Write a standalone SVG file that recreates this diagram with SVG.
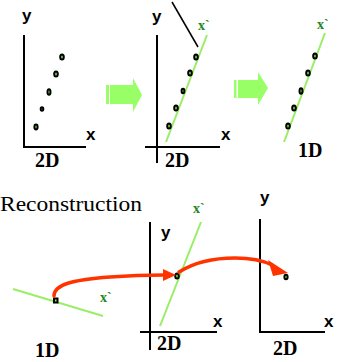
<svg xmlns="http://www.w3.org/2000/svg" width="339" height="362" viewBox="0 0 339 362">
<style>
.ax{stroke:#000;stroke-width:2;fill:none}
.gl{stroke:#99ee66;stroke-width:2;fill:none}
.bl{stroke:#000;stroke-width:1.5;fill:none}
.dot{fill:#88ee55;stroke:#000;stroke-width:2}
.lab{font-family:"Liberation Sans",Arial,sans-serif;font-weight:bold;font-size:17px;fill:#000}
.dim{font-family:"Liberation Serif","Times New Roman",serif;font-weight:bold;font-size:20px;fill:#000}
.xp{font-family:"Liberation Serif","Times New Roman",serif;font-weight:bold;font-size:14px;fill:#228822}
.title{font-family:"Liberation Serif","Times New Roman",serif;font-size:21px;fill:#000}
.arr{fill:#99ff66}
.red{stroke:#ff3300;fill:none;stroke-width:3.5;stroke-linecap:round}
.redh{fill:#ff3300}
</style>
<g id="panel-2d-data">
<path class="ax" d="M24,35 V147 H86"/>
<text class="lab" x="22" y="21">y</text>
<text class="lab" x="86" y="140">x</text>
<text class="dim" x="35" y="167">2D</text>
<ellipse class="dot" cx="62" cy="57" rx="1.8" ry="2.6"/>
<ellipse class="dot" cx="56" cy="74" rx="1.8" ry="2.6"/>
<ellipse class="dot" cx="49" cy="92" rx="1.5" ry="2.8"/>
<ellipse class="dot" cx="42" cy="109" rx="1.3" ry="1.8"/>
<ellipse class="dot" cx="36" cy="127" rx="1.6" ry="2.4"/>
</g>
<g id="arrow-1">
<rect class="arr" x="106" y="85" width="3" height="19"/>
<path class="arr" d="M110,85 H133 V78 L142,95 L133,112 V104 H110 Z"/>
</g>
<g id="panel-2d-fit">
<path class="ax" d="M157,35 V163 M145,147 H220"/>
<line class="gl" x1="166" y1="142" x2="207" y2="35"/>
<line class="bl" x1="172" y1="2" x2="198" y2="47"/>
<text class="lab" x="152" y="22">y</text>
<text class="lab" x="221" y="140">x</text>
<text class="xp" x="198" y="30">x`</text>
<text class="dim" x="165" y="167">2D</text>
<ellipse class="dot" cx="196" cy="57" rx="1.8" ry="2.6"/>
<ellipse class="dot" cx="190" cy="73" rx="1.8" ry="2.6"/>
<ellipse class="dot" cx="183" cy="91" rx="1.4" ry="2.2"/>
<ellipse class="dot" cx="176" cy="108" rx="1.8" ry="2.6"/>
<ellipse class="dot" cx="169" cy="126" rx="1.8" ry="2.6"/>
</g>
<g id="arrow-2">
<rect class="arr" x="234" y="80" width="2.5" height="18"/>
<path class="arr" d="M238,80 H258 V72 L268,88 L258,105 V98 H238 Z"/>
</g>
<g id="panel-1d">
<line class="gl" x1="284" y1="142" x2="325" y2="33"/>
<text class="xp" x="317" y="29">x`</text>
<text class="dim" x="298" y="157">1D</text>
<ellipse class="dot" cx="315" cy="56" rx="1.8" ry="2.6"/>
<ellipse class="dot" cx="308" cy="73" rx="1.8" ry="2.6"/>
<ellipse class="dot" cx="301" cy="91" rx="1.5" ry="2.8"/>
<ellipse class="dot" cx="294" cy="108" rx="1.8" ry="2.6"/>
<ellipse class="dot" cx="288" cy="126" rx="1.8" ry="2.6"/>
</g>
<text class="title" x="0" y="211" textLength="142" lengthAdjust="spacingAndGlyphs">Reconstruction</text>
<g id="recon-1d">
<line class="gl" x1="13" y1="289" x2="103" y2="316"/>
<text class="xp" x="100" y="302">x`</text>
<text class="dim" x="35" y="357">1D</text>
<rect x="54" y="298.5" width="3.5" height="4" fill="#88ee55" stroke="#000" stroke-width="2"/>
</g>
<g id="recon-2d-line">
<path class="ax" d="M150,222 V350 M140,332 H217"/>
<line class="gl" x1="160" y1="326" x2="201" y2="222"/>
<text class="xp" x="193" y="213">x`</text>
<text class="lab" x="161" y="238">y</text>
<text class="lab" x="213" y="327">x</text>
<text class="dim" x="157" y="350">2D</text>
<ellipse class="dot" cx="177" cy="276" rx="1.8" ry="2.6"/>
</g>
<g id="recon-2d-point">
<path class="ax" d="M260,219 V332 H325"/>
<text class="lab" x="260" y="203">y</text>
<text class="lab" x="324" y="327">x</text>
<text class="dim" x="273" y="355">2D</text>
<ellipse class="dot" cx="286" cy="277" rx="1.6" ry="2.2"/>
</g>
<g id="connectors">
<path class="red" d="M54,296 C54,285 70,280 110,277 C130,275.5 145,275 164,275"/>
<path class="redh" d="M163,269 L176,275 L163,281 Z"/>
<path class="red" d="M179,272 C195,262 215,258 235,258 C250,258 262,260 272,265"/>
<path class="redh" d="M268,260 L288,273 L273,276 Z"/>
</g>
</svg>
